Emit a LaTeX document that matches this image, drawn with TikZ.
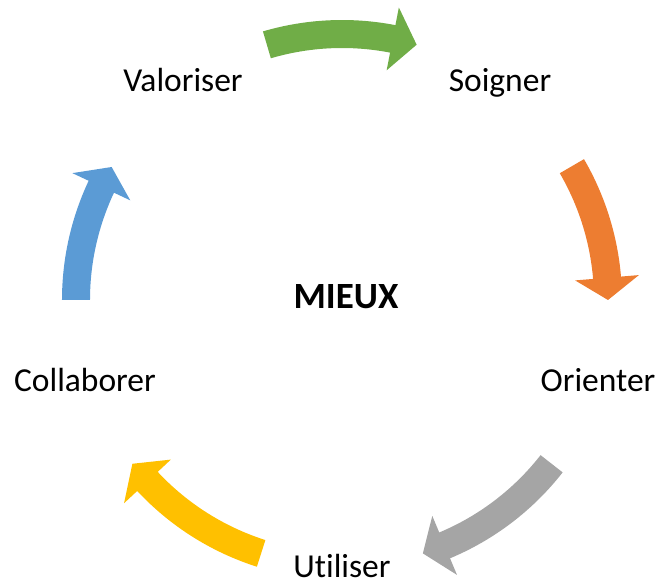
\documentclass[tikz,border=0pt]{standalone}
\usepackage{fontspec}
\setmainfont{Carlito}[Ligatures=NoCommon]
\definecolor{arrgreen}{HTML}{70AD47}
\definecolor{arrorange}{HTML}{ED7D31}
\definecolor{arrgray}{HTML}{A5A5A5}
\definecolor{arryellow}{HTML}{FFC000}
\definecolor{arrblue}{HTML}{5B9BD5}
\tikzset{
  lbl/.style={anchor=base, inner sep=0pt, font=\fontsize{33.5}{40}\selectfont},
  centre/.style={lbl, font=\fontsize{37}{44}\selectfont\bfseries}
}
\begin{document}
\begin{tikzpicture}[x=1pt,y=1pt]
\useasboundingbox (-342,-284) rectangle (315,300);
% curved block arrows: colour / tail / head base / tip (degrees)
\foreach \col/\ta/\hb/\tp in {arrgreen/106.4/79/73.7, arrorange/30.2/4.8/0,
    arrgray/-38/-67.3/-72.3, arryellow/-107.7/-137/-142, arrblue/180/154.8/150}
  \fill[\col] (\ta:280) arc[start angle=\ta, end angle=\hb, radius=280]
    -- (\hb:298) -- (\tp:266) -- (\hb:234) -- (\hb:252)
    arc[start angle=\hb, end angle=\ta, radius=252] -- cycle;
\node[lbl] (valoriser) at (-159,208) {Valoriser};
\node[lbl] (soigner) at (158,208) {Soigner};
\node[lbl] (orienter) at (256,-92) {Orienter};
\node[lbl] (utiliser) at (0,-277) {Utiliser};
\node[lbl] (collaborer) at (-257,-92) {Collaborer};
\node[centre] (mieux) at (4,-9) {MIEUX};
\end{tikzpicture}
\end{document}
